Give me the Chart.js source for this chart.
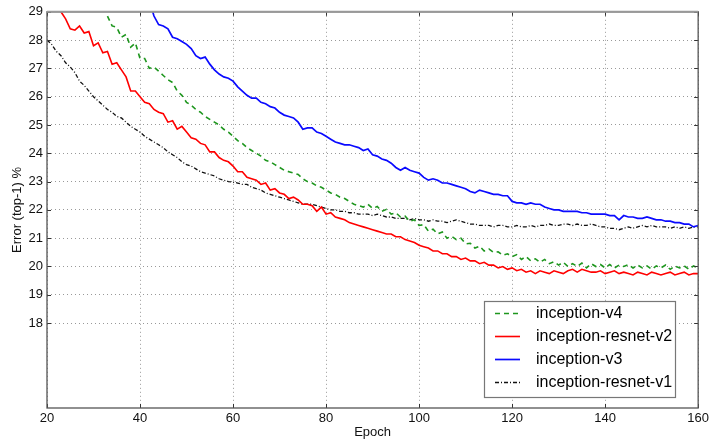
<!DOCTYPE html>
<html>
<head>
<meta charset="utf-8">
<script src="https://cdn.jsdelivr.net/npm/chart.js@4"></script>
<style>
html,body{margin:0;padding:0;background:#fff;}
#wrap{width:712px;height:442px;position:relative;}
</style>
</head>
<body>
<div id="wrap"><canvas id="c" width="712" height="442"></canvas></div>
<script>
const epochs = [
  20,21,22,23,24,25,26,27,28,29,
  30,31,32,33,34,35,36,37,38,39,
  40,41,42,43,44,45,46,47,48,49,
  50,51,52,53,54,55,56,57,58,59,
  60,61,62,63,64,65,66,67,68,69,
  70,71,72,73,74,75,76,77,78,79,
  80,81,82,83,84,85,86,87,88,89,
  90,91,92,93,94,95,96,97,98,99,
  100,101,102,103,104,105,106,107,108,109,
  110,111,112,113,114,115,116,117,118,119,
  120,121,122,123,124,125,126,127,128,129,
  130,131,132,133,134,135,136,137,138,139,
  140,141,142,143,144,145,146,147,148,149,
  150,151,152,153,154,155,156,157,158,159,
  160
];

const inceptionV4 = [
  null,null,null,null,null,null,null,null,null,null,
  null,null,null,28.85,28.5,28.45,28.1,28.2,27.75,27.9,
  27.35,27.35,27.0,27.05,26.9,26.75,26.6,26.5,26.2,26.05,
  25.8,25.7,25.55,25.45,25.3,25.2,25.1,25.0,24.85,24.75,
  24.6,24.45,24.35,24.2,24.1,24.0,23.9,23.75,23.7,23.6,
  23.5,23.4,23.35,23.3,23.25,23.1,23.0,22.95,22.85,22.8,
  22.7,22.6,22.55,22.45,22.4,22.3,22.2,22.15,22.1,22.2,
  22.05,22.12,21.95,22.02,21.85,21.9,21.75,21.78,21.6,21.65,
  21.45,21.48,21.25,21.32,21.15,21.22,21.0,21.07,20.95,21.0,
  20.8,20.82,20.65,20.72,20.55,20.62,20.5,20.52,20.4,20.45,
  20.35,20.42,20.25,20.35,20.2,20.27,20.15,20.25,20.1,20.17,
  20.05,20.15,20.0,20.1,20.0,20.12,19.95,20.1,20.0,20.07,
  19.95,20.07,19.95,20.05,20.0,20.07,19.95,20.05,19.95,20.02,
  19.9,20.02,19.95,20.05,19.9,20.02,19.95,20.02,19.9,20.02,
  19.95
];

const inceptionResnetV2 = [
  null,null,29.5,29.0,28.75,28.4,28.35,28.5,28.25,28.3,
  27.8,27.9,27.55,27.6,27.15,27.2,26.95,26.7,26.2,26.2,
  26.0,25.8,25.75,25.55,25.45,25.4,25.1,25.15,24.85,24.95,
  24.75,24.55,24.5,24.35,24.3,24.05,24.05,23.85,23.75,23.7,
  23.55,23.35,23.35,23.15,23.1,23.05,22.9,22.95,22.7,22.75,
  22.6,22.55,22.4,22.45,22.35,22.2,22.2,22.15,21.95,22.1,
  21.85,21.9,21.75,21.7,21.65,21.55,21.5,21.45,21.4,21.35,
  21.3,21.25,21.2,21.15,21.15,21.05,21.05,20.95,20.9,20.85,
  20.75,20.7,20.65,20.55,20.55,20.45,20.45,20.35,20.35,20.25,
  20.3,20.2,20.2,20.1,20.15,20.05,20.05,19.95,20.0,19.9,
  19.95,19.85,19.9,19.8,19.85,19.75,19.85,19.8,19.75,19.85,
  19.8,19.75,19.85,19.9,19.8,19.9,19.85,19.8,19.8,19.85,
  19.75,19.8,19.85,19.75,19.8,19.75,19.7,19.8,19.75,19.7,
  19.8,19.75,19.7,19.75,19.8,19.7,19.75,19.8,19.7,19.75,
  19.75
];

const inceptionV3 = [
  null,null,null,null,null,null,null,null,null,null,
  null,null,null,null,null,null,null,null,null,null,
  null,null,29.4,28.85,28.55,28.5,28.4,28.1,28.05,27.95,
  27.85,27.7,27.45,27.35,27.4,27.15,26.95,26.8,26.7,26.65,
  26.55,26.35,26.2,26.05,25.95,25.95,25.8,25.75,25.65,25.6,
  25.45,25.35,25.3,25.25,25.1,24.85,24.9,24.9,24.75,24.7,
  24.6,24.5,24.4,24.35,24.3,24.3,24.25,24.2,24.1,24.15,
  23.95,23.9,23.8,23.75,23.65,23.5,23.4,23.5,23.4,23.35,
  23.3,23.15,23.05,23.1,23.05,22.95,22.95,22.9,22.85,22.8,
  22.75,22.65,22.6,22.7,22.65,22.6,22.55,22.55,22.5,22.5,
  22.3,22.25,22.25,22.2,22.25,22.2,22.2,22.1,22.05,22.0,
  22.0,21.95,21.95,21.95,21.95,21.9,21.9,21.85,21.85,21.85,
  21.85,21.8,21.8,21.65,21.8,21.75,21.75,21.7,21.7,21.75,
  21.7,21.65,21.65,21.6,21.6,21.55,21.55,21.5,21.5,21.4,
  21.45
];

const inceptionResnetV1 = [
  28.0,27.85,27.6,27.45,27.2,27.05,26.85,26.55,26.4,26.2,
  26.0,25.85,25.7,25.55,25.45,25.3,25.25,25.1,24.95,24.85,
  24.75,24.6,24.5,24.4,24.3,24.2,24.05,23.95,23.85,23.7,
  23.6,23.55,23.45,23.35,23.3,23.25,23.2,23.1,23.05,23.0,
  22.98,22.95,22.9,22.9,22.8,22.75,22.7,22.6,22.55,22.5,
  22.45,22.4,22.35,22.3,22.25,22.2,22.2,22.2,22.15,22.1,
  22.05,22.0,22.0,21.95,21.95,21.9,21.9,21.85,21.85,21.85,
  21.8,21.85,21.8,21.75,21.75,21.7,21.7,21.7,21.65,21.7,
  21.65,21.65,21.6,21.65,21.6,21.6,21.55,21.6,21.65,21.6,
  21.55,21.5,21.5,21.45,21.45,21.45,21.4,21.45,21.45,21.4,
  21.4,21.45,21.4,21.4,21.45,21.4,21.45,21.45,21.5,21.45,
  21.45,21.5,21.5,21.45,21.5,21.45,21.45,21.5,21.45,21.4,
  21.4,21.35,21.35,21.3,21.35,21.4,21.35,21.4,21.45,21.4,
  21.45,21.4,21.4,21.4,21.35,21.4,21.35,21.4,21.35,21.4,
  21.4
];

const seriesLabels = ['inception-v4','inception-resnet-v2','inception-v3','inception-resnet-v1'];
const xTitle = 'Epoch';
const yTitle = 'Error (top-1) %';

function pts(vals){ return epochs.map((e,i)=>({x:e,y:vals[i]})); }

const FONT = "'Liberation Sans', Arial, Helvetica, sans-serif";
Chart.defaults.font.family = FONT;
Chart.defaults.font.size = 13;
Chart.defaults.color = '#000';

const framePlugin = {
  id: 'frame',
  afterDraw(chart){
    const {ctx, chartArea:a, scales} = chart;
    ctx.save();
    ctx.strokeStyle = '#333';
    ctx.lineWidth = 1;
    ctx.beginPath();
    scales.x.ticks.forEach(t=>{
      const px = Math.round(scales.x.getPixelForValue(t.value))+0.5;
      ctx.moveTo(px,a.bottom); ctx.lineTo(px,a.bottom-4);
      ctx.moveTo(px,a.top); ctx.lineTo(px,a.top+4);
    });
    scales.y.ticks.forEach(t=>{
      if (t.value < 18) return;
      const py = Math.round(scales.y.getPixelForValue(t.value))+0.5;
      ctx.moveTo(a.left,py); ctx.lineTo(a.left+4,py);
      ctx.moveTo(a.right,py); ctx.lineTo(a.right-4,py);
    });
    ctx.stroke();
    ctx.strokeStyle = '#555';
    ctx.lineWidth = 1.3;
    ctx.strokeRect(a.left, a.top, a.right-a.left, a.bottom-a.top);
    ctx.strokeStyle = '#999';
    ctx.lineWidth = 2;
    ctx.beginPath(); ctx.moveTo(a.left, a.top); ctx.lineTo(a.right, a.top); ctx.stroke();
    // legend
    const bx=484, by=301, bw=191, bh=96;
    ctx.fillStyle='#fff';
    ctx.fillRect(bx,by,bw,bh);
    ctx.strokeStyle='#777';
    ctx.lineWidth=1.2;
    ctx.strokeRect(bx+0.5,by+0.5,bw,bh);
    const rows=[313,336,359,382];
    chart.data.datasets.forEach((ds,i)=>{
      const y=rows[i];
      ctx.save();
      ctx.strokeStyle=ds.borderColor;
      ctx.lineWidth=ds.borderWidth;
      ctx.setLineDash(ds.borderDash||[]);
      ctx.beginPath();
      ctx.moveTo(495,y+0.5); ctx.lineTo(520,y+0.5);
      ctx.stroke();
      ctx.restore();
      ctx.fillStyle='#000';
      ctx.font='16px '+FONT;
      ctx.textBaseline='middle';
      ctx.textAlign='left';
      ctx.fillText(ds.label,536,y+1);
    });
    ctx.restore();
  }
};

new Chart(document.getElementById('c'), {
  type: 'line',
  data: {
    datasets: [
      {label: seriesLabels[0], data: pts(inceptionV4), borderColor:'#1e961e', borderWidth:1.6, borderDash:[5,4]},
      {label: seriesLabels[1], data: pts(inceptionResnetV2), borderColor:'#ff0000', borderWidth:1.6},
      {label: seriesLabels[2], data: pts(inceptionV3), borderColor:'#0a0aff', borderWidth:1.7},
      {label: seriesLabels[3], data: pts(inceptionResnetV1), borderColor:'#111', borderWidth:1.3, borderDash:[4,2,1,2]}
    ]
  },
  options: {
    responsive: false,
    animation: false,
    events: [],
    layout: {padding: {top: 9, right: 12, left: 0, bottom: 0}},
    elements: {point: {radius: 0}, line: {tension: 0, fill: false}},
    datasets: {line: {spanGaps: true}},
    plugins: {legend: {display: false}, tooltip: {enabled: false}},
    scales: {
      x: {
        type: 'linear', min: 20, max: 160,
        border: {display: false, dash: [1,3]},
        ticks: {stepSize: 20, padding: 3, font: {size: 13}, color: '#111'},
        grid: {color: '#999', lineWidth: 1, drawTicks: false},
        title: {display: true, text: xTitle, font: {size: 13}, padding: {top: 0, bottom: 2}, color: '#111'},
        afterFit(s){ s.height = 34; }
      },
      y: {
        type: 'linear', min: 15, max: 29,
        border: {display: false, dash: [1,3]},
        ticks: {stepSize: 1, padding: 4, font: {size: 13}, color: '#111',
          callback: v => v < 18 ? '' : String(v)},
        grid: {color: ctx => (ctx.tick && ctx.tick.value < 18) ? 'rgba(0,0,0,0)' : '#999',
          lineWidth: 1, drawTicks: false},
        title: {display: true, text: yTitle, font: {size: 13}, padding: {top: 10, bottom: 0}, color: '#111'},
        afterFit(s){ s.width = 47; }
      }
    }
  },
  plugins: [framePlugin]
});
</script>
</body>
</html>
